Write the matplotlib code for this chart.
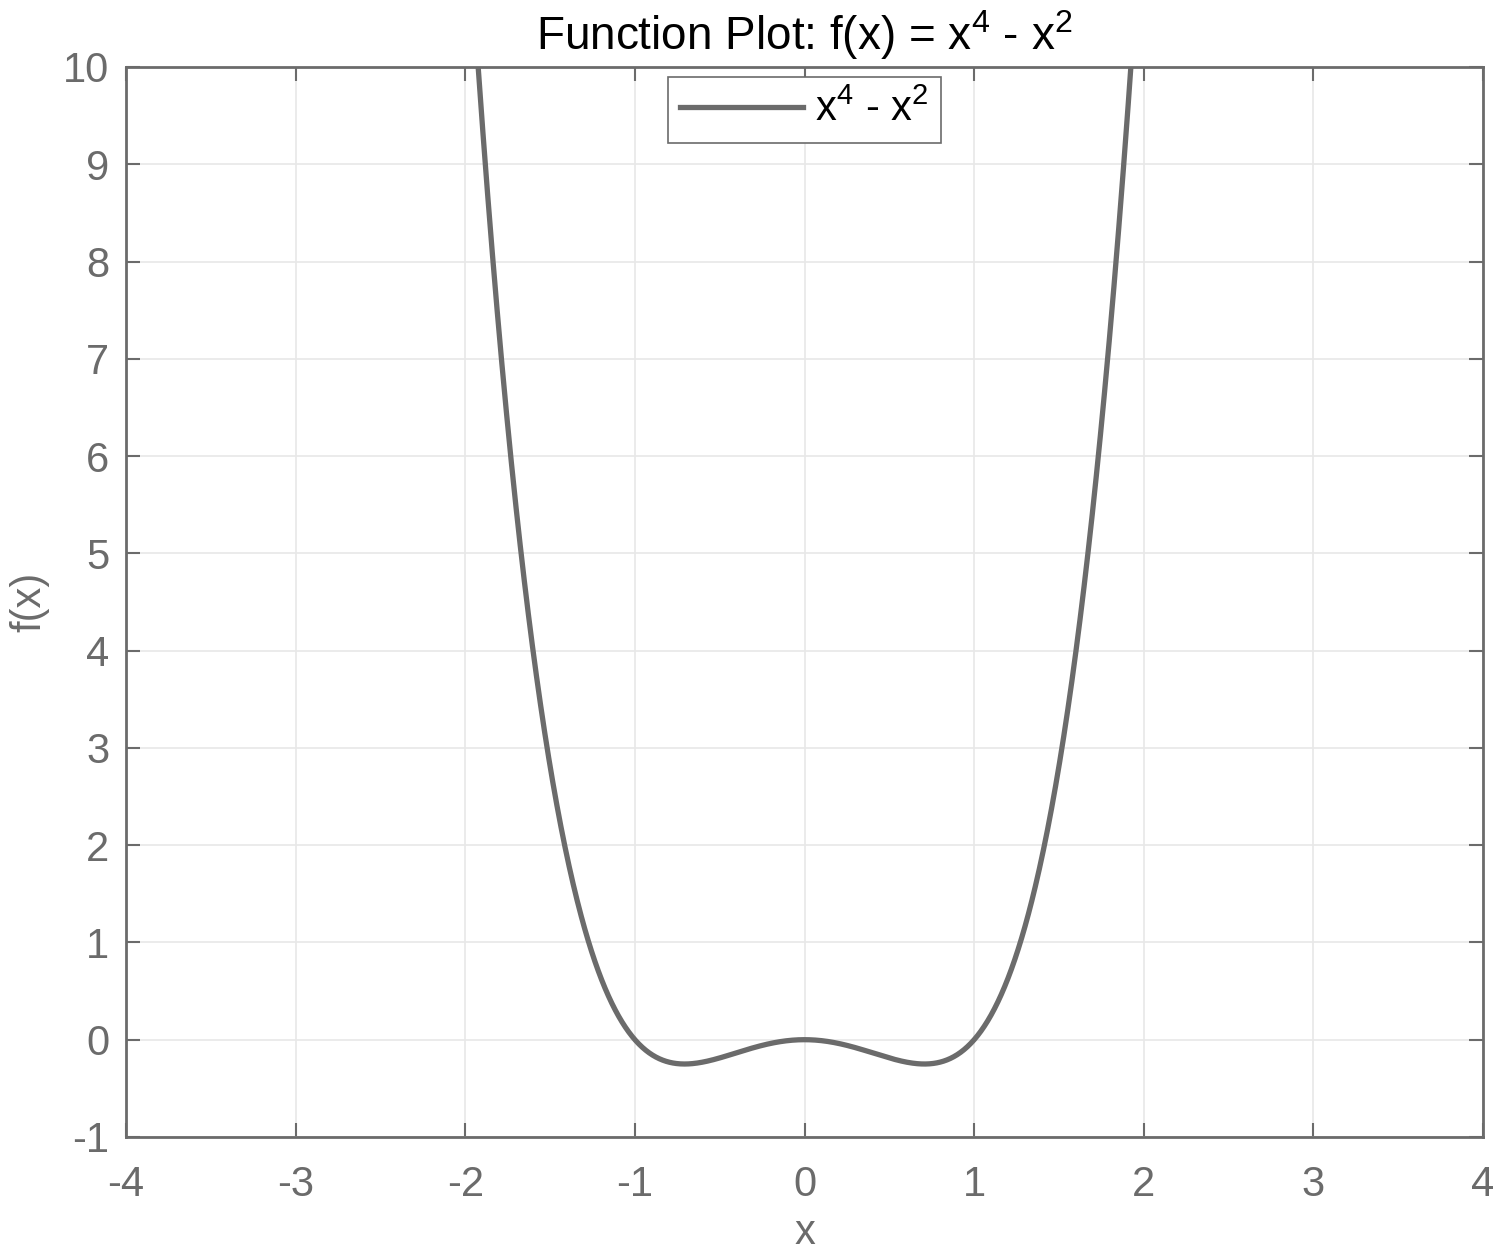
import numpy as np
import matplotlib.pyplot as plt

plt.rcParams['font.family'] = ['Liberation Sans', 'DejaVu Sans']
plt.rcParams['mathtext.default'] = 'regular'
plt.rcParams['axes.unicode_minus'] = False

# the curve, as named in the title
x = np.linspace(-4, 4, 2001)
y = x**4 - x**2

xticks = [-4, -3, -2, -1, 0, 1, 2, 3, 4]
yticks = [-1, 0, 1, 2, 3, 4, 5, 6, 7, 8, 9, 10]

gray = '#6b6b6b'

fig = plt.figure(figsize=(15, 12.57), dpi=100)
ax = fig.add_axes([0.084, 0.0955, 0.9047, 0.8512])

ax.plot(x, y, color=gray, linewidth=3.8, label='x$^4$ - x$^2$')

ax.set_xlim(-4, 4)
ax.set_ylim(-1, 10)
ax.set_xticks(xticks)
ax.set_yticks(yticks)
ax.grid(True, color='#e8e8e8', linewidth=1.2)
ax.set_axisbelow(True)

for s in ax.spines.values():
    s.set_color(gray)
    s.set_linewidth(2)

ax.tick_params(direction='in', length=10, width=1.5, colors=gray,
               labelsize=30, top=True, right=True)
ax.tick_params(axis='x', pad=20)
ax.tick_params(axis='y', pad=12)

ax.set_xlabel('x', fontsize=30, color=gray, labelpad=6)
ax.set_ylabel('f(x)', fontsize=30, color=gray, labelpad=10)
ax.set_title('Function Plot: f(x) = x$^4$ - x$^2$', fontsize=33, color='black', pad=12)

leg = ax.legend(loc='upper center', fontsize=30, fancybox=False, framealpha=1,
                edgecolor=gray, handlelength=2.95, handletextpad=0.3,
                borderpad=0.3, borderaxespad=0.25)
leg.get_frame().set_linewidth(1.2)

fig.savefig('out.png', dpi=100, facecolor='white')
